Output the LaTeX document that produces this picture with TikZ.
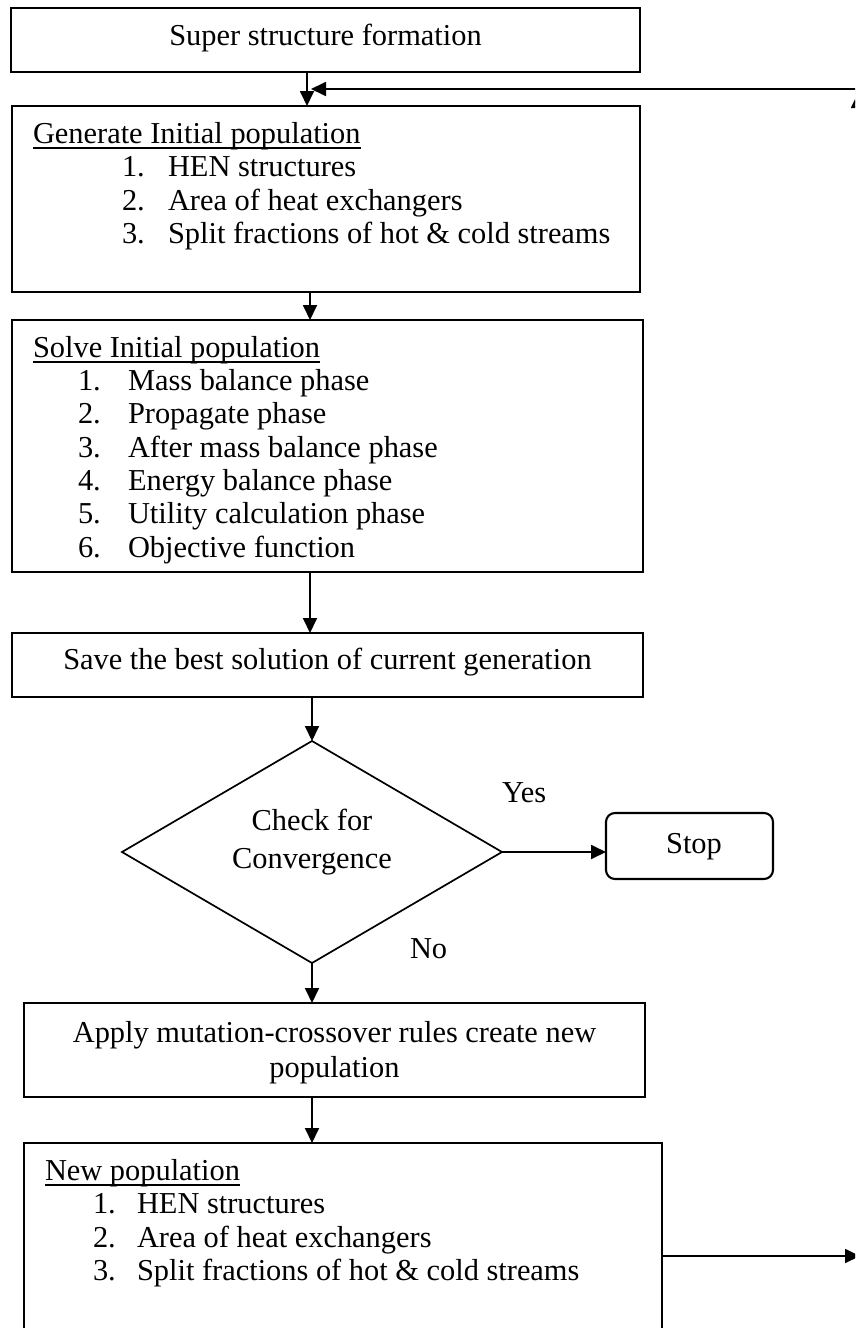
\documentclass[tikz,border=0pt]{standalone}
\usepackage{fontspec}
\setmainfont{Liberation Serif}
\usetikzlibrary{shapes.geometric,arrows.meta}
\newcommand\flowfont{\fontsize{30.4}{36}\selectfont}
\begin{document}
\begin{tikzpicture}[x=1pt,y=-1pt,
  box/.style={draw, line width=2.1pt, inner sep=0pt, outer sep=0pt},
  txt/.style={inner sep=0pt, outer sep=0pt, anchor=base west, font=\flowfont},
  ctxt/.style={inner sep=0pt, outer sep=0pt, anchor=base, font=\flowfont},
  arr/.style={line width=1.8pt, -{Triangle[length=15pt,width=14pt]}},
  uline/.style={line width=1.4pt}]
\useasboundingbox (0,0) rectangle (855,1328);
\clip (0,0) rectangle (855,1328);
\fill[white] (0,0) rectangle (855,1328);

% --- boxes ---
\node[box, minimum width=629pt, minimum height=64pt]  (b1) at (325.5,40) {};
\node[box, minimum width=628pt, minimum height=186pt] (b2) at (326,199) {};
\node[box, minimum width=631pt, minimum height=252pt] (b3) at (327.5,446) {};
\node[box, minimum width=631pt, minimum height=64pt]  (b4) at (327.5,665) {};
\node[draw, diamond, line width=1.7pt, inner sep=0pt, outer sep=0pt,
      minimum width=380pt, minimum height=222pt] (chk) at (312,852) {};
\node[box, rounded corners=9pt, minimum width=167pt, minimum height=66pt] (stop) at (689.5,846) {};
\node[box, minimum width=621pt, minimum height=94pt]  (b5) at (334.5,1050) {};
\node[box, minimum width=638pt, minimum height=200pt] (b6) at (343,1243) {};

% --- texts ---
\node[ctxt] (t1) at (325.5,45) {Super structure formation};

\node[txt] (t2) at (33,143) {Generate Initial population};
\draw[uline] ([yshift=-5pt]t2.base west) -- ([yshift=-5pt]t2.base east);
\node[txt] (t2n1) at (122,176.5) {1.}; \node[txt] (t2i1) at (168,176.5) {HEN structures};
\node[txt] (t2n2) at (122,210)   {2.}; \node[txt] (t2i2) at (168,210)   {Area of heat exchangers};
\node[txt] (t2n3) at (122,243.5) {3.}; \node[txt] (t2i3) at (168,243.5) {Split fractions of hot \& cold streams};

\node[txt] (t3) at (33,357) {Solve Initial population};
\draw[uline] ([yshift=-5pt]t3.base west) -- ([yshift=-5pt]t3.base east);
\node[txt] (t3n1) at (78,390.3) {1.}; \node[txt] (t3i1) at (128,390.3) {Mass balance phase};
\node[txt] (t3n2) at (78,423.7) {2.}; \node[txt] (t3i2) at (128,423.7) {Propagate phase};
\node[txt] (t3n3) at (78,457)   {3.}; \node[txt] (t3i3) at (128,457)   {After mass balance phase};
\node[txt] (t3n4) at (78,490.3) {4.}; \node[txt] (t3i4) at (128,490.3) {Energy balance phase};
\node[txt] (t3n5) at (78,523.7) {5.}; \node[txt] (t3i5) at (128,523.7) {Utility calculation phase};
\node[txt] (t3n6) at (78,557)   {6.}; \node[txt] (t3i6) at (128,557)   {Objective function};

\node[ctxt] (t4) at (327.5,669) {Save the best solution of current generation};

\node[ctxt] (tc1) at (312,830) {Check for};
\node[ctxt] (tc2) at (312,868) {Convergence};
\node[txt]  (yes) at (502,802) {Yes};
\node[txt]  (no)  at (410,958) {No};
\node[ctxt] (ts)  at (694,853) {Stop};

\node[ctxt] (t5a) at (334.5,1042) {Apply mutation-crossover rules create new};
\node[ctxt] (t5b) at (334.5,1077) {population};

\node[txt] (t6) at (45,1180) {New population};
\draw[uline] ([yshift=-5pt]t6.base west) -- ([yshift=-5pt]t6.base east);
\node[txt] (t6n1) at (93,1213.5) {1.}; \node[txt] (t6i1) at (137,1213.5) {HEN structures};
\node[txt] (t6n2) at (93,1247)   {2.}; \node[txt] (t6i2) at (137,1247)   {Area of heat exchangers};
\node[txt] (t6n3) at (93,1280.5) {3.}; \node[txt] (t6i3) at (137,1280.5) {Split fractions of hot \& cold streams};

% --- connectors ---
\coordinate (ax1) at (307,0);
\coordinate (ax2) at (310,0);
\draw[arr] (b1.south -| ax1) -- (b2.north -| ax1);
\draw[arr] (b2.south -| ax2) -- (b3.north -| ax2);
\draw[arr] (b3.south -| ax2) -- (b4.north -| ax2);
\draw[arr] (b4.south -| chk.north) -- (chk.north);
\draw[arr] (chk.east) -- (stop.west |- chk.east);
\draw[arr] (chk.south) -- (b5.north -| chk.south);
\draw[arr] (b5.south -| chk.south) -- (b6.north -| chk.south);

% --- feedback loop back to the population generator ---
\coordinate (rb) at (860,1256);
\coordinate (rv) at (858,1256);
\coordinate (rt) at (858,93);
\coordinate (rh) at (858,89);
\coordinate (merge) at (311,89);
\draw[arr] (b6.east |- rb) -- (rb);
\draw[arr] (rv) -- (rt);
\draw[arr] (rh) -- (merge);
\end{tikzpicture}
\end{document}
